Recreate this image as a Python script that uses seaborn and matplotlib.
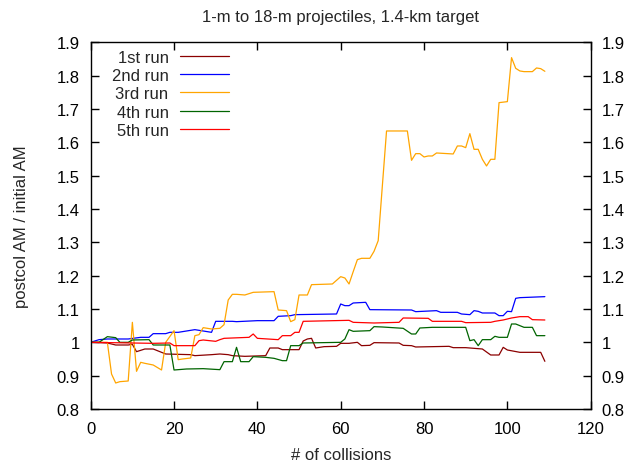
import numpy as np
import pandas as pd
import matplotlib
matplotlib.use("Agg")
import matplotlib.pyplot as plt
from matplotlib.ticker import FuncFormatter
import seaborn as sns

# ---- data ----
run_labels = ["1st run", "2nd run", "3rd run", "4th run", "5th run"]
run_colors = ["#8b0000", "#0000ff", "#ffa500", "#006400", "#ff0000"]

run1_x = [0, 4, 6, 9, 10, 11, 13, 15, 16, 18, 24, 25, 29, 31, 33, 34, 37, 42, 43, 45, 46, 50, 51, 52, 53, 54,
          56, 59, 60, 62, 64, 65, 67, 68, 74, 75, 77, 78, 86, 87, 90, 94, 96, 98, 99, 100, 103, 108, 109]
run1_y = [1.0, 0.998, 0.992, 0.992, 0.994, 0.972, 0.98, 0.98, 0.975, 0.965, 0.963, 0.96, 0.963, 0.965, 0.963,
          0.96, 0.958, 0.96, 0.983, 0.983, 0.978, 0.978, 1.004, 1.01, 1.012, 0.983, 0.987, 0.988, 0.997,
          0.997, 1.0, 0.99, 0.991, 0.999, 0.998, 0.991, 0.99, 0.986, 0.988, 0.984, 0.984, 0.98, 0.962,
          0.962, 0.985, 0.977, 0.97, 0.97, 0.943]

run2_x = [0, 2, 4, 9, 12, 14, 15, 18, 19, 21, 25, 26, 29, 30, 34, 35, 40, 44, 45, 48, 49, 59, 60, 61, 62,
          63, 66, 67, 77, 78, 83, 84, 88, 89, 91, 92, 93, 94, 97, 98, 99, 100, 101, 102, 103, 109]
run2_y = [1.0, 1.008, 1.01, 1.01, 1.015, 1.015, 1.026, 1.026, 1.03, 1.03, 1.038, 1.036, 1.03, 1.063, 1.063,
          1.062, 1.065, 1.065, 1.078, 1.08, 1.083, 1.085, 1.115, 1.11, 1.11, 1.118, 1.12, 1.098, 1.097,
          1.092, 1.095, 1.09, 1.09, 1.085, 1.083, 1.095, 1.093, 1.088, 1.088, 1.08, 1.08, 1.093, 1.092,
          1.132, 1.134, 1.137]

run3_x = [0, 4, 5, 6, 7, 9, 10, 11, 12, 13, 15, 17, 18, 20, 21, 22, 24, 25, 26, 27, 29, 31, 32, 33, 34, 35,
          37, 39, 44, 45, 47, 48, 49, 50, 52, 53, 58, 60, 61, 62, 63, 64, 65, 67, 68, 69, 70, 71, 76, 77,
          78, 79, 80, 81, 82, 83, 87, 88, 89, 90, 91, 92, 93, 94, 95, 96, 97, 98, 100, 101, 102, 103, 104,
          106, 107, 108, 109]
run3_y = [1.0, 1.0, 0.905, 0.878, 0.882, 0.884, 1.06, 0.913, 0.94, 0.937, 0.932, 0.917, 1.0, 1.035, 0.948,
          0.95, 0.953, 1.02, 1.023, 1.044, 1.04, 1.042, 1.053, 1.127, 1.144, 1.144, 1.142, 1.15, 1.152,
          1.097, 1.095, 1.062, 1.068, 1.142, 1.142, 1.173, 1.175, 1.197, 1.193, 1.175, 1.212, 1.248,
          1.252, 1.252, 1.273, 1.305, 1.47, 1.634, 1.634, 1.546, 1.566, 1.566, 1.556, 1.559, 1.559, 1.568,
          1.565, 1.589, 1.589, 1.584, 1.626, 1.579, 1.579, 1.549, 1.529, 1.549, 1.549, 1.719, 1.722,
          1.854, 1.822, 1.814, 1.812, 1.812, 1.823, 1.821, 1.813]

run4_x = [0, 2, 4, 6, 7, 9, 10, 14, 15, 19, 20, 23, 27, 31, 32, 34, 35, 36, 38, 39, 42, 44, 46, 47, 48, 50,
          51, 60, 61, 62, 63, 67, 68, 70, 75, 77, 78, 79, 82, 90, 91, 92, 93, 94, 96, 97, 98, 100, 101,
          102, 104, 106, 107, 109]
run4_y = [1.0, 1.0, 1.017, 1.014, 1.0, 1.0, 1.007, 1.008, 0.992, 0.992, 0.917, 0.92, 0.921, 0.918, 0.942,
          0.942, 0.985, 0.942, 0.942, 0.957, 0.955, 0.952, 0.945, 0.945, 0.99, 0.99, 0.998, 1.0, 1.01,
          1.038, 1.033, 1.035, 1.047, 1.046, 1.042, 1.025, 1.025, 1.043, 1.045, 1.045, 1.005, 1.008, 0.99,
          1.008, 1.008, 1.018, 1.015, 1.015, 1.055, 1.055, 1.045, 1.045, 1.02, 1.02]

run5_x = [0, 15, 19, 20, 25, 26, 27, 30, 31, 32, 38, 39, 40, 45, 46, 48, 49, 50, 51, 62, 63, 68, 74, 75,
          81, 82, 89, 90, 96, 97, 99, 101, 103, 105, 106, 109]
run5_y = [1.0, 0.997, 0.998, 0.99, 0.99, 1.005, 1.007, 1.003, 1.008, 1.012, 1.015, 1.025, 1.012, 1.008,
          1.02, 1.02, 1.03, 1.03, 1.063, 1.066, 1.06, 1.058, 1.06, 1.073, 1.072, 1.063, 1.063, 1.059,
          1.06, 1.063, 1.067, 1.073, 1.077, 1.077, 1.068, 1.067]

x_ticks = [0, 20, 40, 60, 80, 100, 120]
y_ticks = [0.8, 0.9, 1.0, 1.1, 1.2, 1.3, 1.4, 1.5, 1.6, 1.7, 1.8, 1.9]

title = "1-m to 18-m projectiles, 1.4-km target"
xlabel = "# of collisions"
ylabel = "postcol AM / initial AM"

# ---- build long table ----
frames = []
for lab, xs, ys in zip(run_labels,
                       [run1_x, run2_x, run3_x, run4_x, run5_x],
                       [run1_y, run2_y, run3_y, run4_y, run5_y]):
    frames.append(pd.DataFrame({"collisions": xs, "ratio": ys, "run": lab}))
df = pd.concat(frames, ignore_index=True)

# ---- style ----
sns.set_style("ticks")
plt.rcParams["font.family"] = ["Liberation Sans", "DejaVu Sans"]
plt.rcParams["font.size"] = 12
plt.rcParams["axes.linewidth"] = 1.0

fig = plt.figure(figsize=(6.35, 4.64), dpi=100)
ax = fig.add_axes([90.7 / 635, 1 - 410 / 464, 500 / 635, (410 - 43.3) / 464])

palette = dict(zip(run_labels, run_colors))
sns.lineplot(data=df, x="collisions", y="ratio", hue="run", hue_order=run_labels,
             palette=palette, estimator=None, sort=False, linewidth=0.9, ax=ax, legend=False)

ax.set_xlim(x_ticks[0], x_ticks[-1])
ax.set_ylim(y_ticks[0], y_ticks[-1])
ax.set_xticks(x_ticks)
ax.set_yticks(y_ticks)
ax.yaxis.set_major_formatter(FuncFormatter(lambda v, p: f"{round(v, 3):g}"))
ax.tick_params(axis="both", which="major", direction="in", length=6, width=1.0,
               top=True, right=True, labelright=True, labelsize=12, colors="black")
ax.tick_params(axis="y", pad=8)
ax.tick_params(axis="x", pad=9)
for s in ax.spines.values():
    s.set_visible(True)
    s.set_color("black")
    s.set_linewidth(1.0)

ax.set_xlabel(xlabel, fontsize=12, labelpad=7.5)
ax.set_ylabel(ylabel, fontsize=12, labelpad=20)
ax.set_title(title, fontsize=12, pad=15)

handles = ax.get_lines()[:len(run_labels)]
leg = ax.legend(handles, run_labels, loc="upper right", bbox_to_anchor=(0.294, 1.003),
                frameon=False, markerfirst=False, borderpad=0, handlelength=2.95,
                handletextpad=0.7, labelspacing=0.2, fontsize=12)
try:
    for col in leg._legend_handle_box.get_children():
        col.align = "right"
except Exception:
    pass

fig.savefig("out.png", dpi=100)
